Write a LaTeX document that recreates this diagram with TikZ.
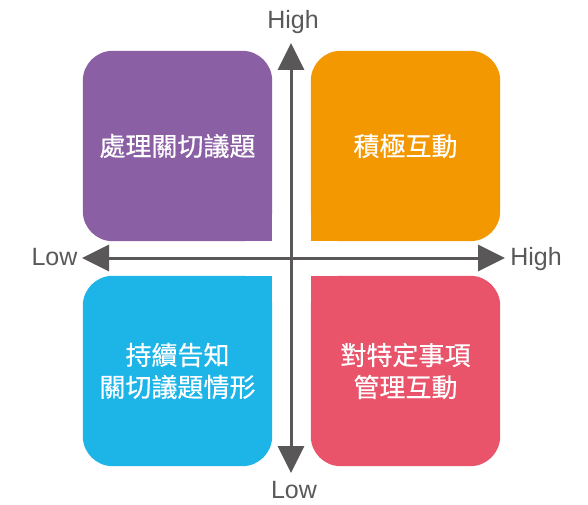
\documentclass[tikz,border=0pt]{standalone}
\usepackage{fontspec}
\setmainfont{Liberation Sans}
\newfontfamily\cjk[FakeBold=0.4]{Noto Sans CJK TC}
\usetikzlibrary{arrows.meta}
\definecolor{cpurple}{HTML}{8B5FA4}
\definecolor{corange}{HTML}{F39800}
\definecolor{cblue}{HTML}{1DB4E8}
\definecolor{cred}{HTML}{E9546B}
\definecolor{caxis}{HTML}{595757}
\definecolor{clabel}{HTML}{595959}
\tikzset{
  quad/.style={minimum width=189pt,minimum height=190pt,inner sep=0pt,align=center,
    text=white,font=\cjk\fontsize{26}{32}\selectfont},
  axis/.style={caxis,line width=3pt,{Triangle[length=27pt,width=26pt]}-{Triangle[length=27pt,width=26pt]}},
  axlabel/.style={text=clabel,font=\fontsize{25}{30}\selectfont,anchor=base,inner sep=0pt},
}
\begin{document}
\begin{tikzpicture}[x=1pt,y=-1pt]
\useasboundingbox[fill=white] (0,0) rectangle (588,505);
% quadrant boxes
\node[quad] (q1) at (177.5,146) {};
\node[quad] (q2) at (405.5,146) {};
\node[quad] (q3) at (177.5,371) {};
\node[quad] (q4) at (405.5,371) {};
\fill[cpurple,rounded corners=30pt] (q1.south west) rectangle (q1.north east);
\fill[cpurple] (q1.center) rectangle (q1.south east);
\fill[corange,rounded corners=30pt] (q2.south west) rectangle (q2.north east);
\fill[corange] (q2.center) rectangle (q2.south west);
\fill[cblue,rounded corners=30pt] (q3.south west) rectangle (q3.north east);
\fill[cblue] (q3.center) rectangle (q3.north east);
\fill[cred,rounded corners=30pt] (q4.south west) rectangle (q4.north east);
\fill[cred] (q4.center) rectangle (q4.north west);
\node[quad] (t1) at (q1.center) {處理關切議題};
\node[quad] (t2) at (q2.center) {積極互動};
\node[quad] (t3) at (q3.center) {持續告知\\關切議題情形};
\node[quad] (t4) at (q4.center) {對特定事項\\管理互動};
% axes
\coordinate (vt) at (291,43);
\coordinate (vb) at (291,473);
\coordinate (hl) at (82,258);
\coordinate (hr) at (505,258);
\draw[axis] (vb) -- (vt);
\draw[axis] (hl) -- (hr);
\node[axlabel] (lt) at (293,29) {High};
\node[axlabel] (lb) at (294,498) {Low};
\node[axlabel] (ll) at (54.5,265) {Low};
\node[axlabel] (lr) at (536,265) {High};
\end{tikzpicture}
\end{document}
